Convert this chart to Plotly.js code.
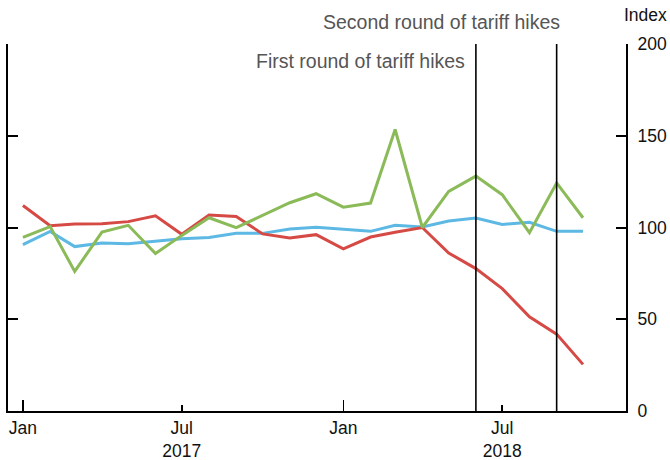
<!DOCTYPE html>
<html>
<head>
<meta charset="utf-8">
<script src="https://cdn.plot.ly/plotly-3.0.1.min.js"></script>
<style>html,body{margin:0;padding:0;background:#fff;}#chart{width:670px;height:460px;}</style>
</head>
<body>
<div id="chart"></div>
<script>
// Monthly dates, Jan 2017 - Oct 2018
var months = ["2017-01-01","2017-02-01","2017-03-01","2017-04-01","2017-05-01","2017-06-01",
              "2017-07-01","2017-08-01","2017-09-01","2017-10-01","2017-11-01","2017-12-01",
              "2018-01-01","2018-02-01","2018-03-01","2018-04-01","2018-05-01","2018-06-01",
              "2018-07-01","2018-08-01","2018-09-01","2018-10-01"];
var redSeries   = [112, 101, 101.9, 102, 103.2, 106.4, 96.3, 106.8, 106, 96.5, 94.3, 96.1,
                   88.4, 94.8, 97.4, 100, 86.1, 77.6, 66.7, 51.3, 41.9, 25.4];
var greenSeries = [94.6, 100.5, 76.1, 97.5, 101.2, 85.8, 95.7, 105.3, 99.9, 106.6, 113.5, 118.4,
                   111.1, 113.3, 153.4, 100, 119.7, 128, 117.9, 97.2, 124.3, 105.3];
var blueSeries  = [90.7, 97.9, 89.6, 91.5, 91.2, 92.5, 93.9, 94.6, 96.8, 96.8, 99.2, 100.1,
                   99.2, 97.9, 101.2, 100.3, 103.5, 105.2, 101.7, 102.8, 97.9, 97.9];
var tickDates  = ["2017-01-01","2017-07-01","2018-01-01","2018-07-01"];
var tickLabels = ["Jan","Jul<br>2017","Jan","Jul<br>2018"];
var yTicks = [0, 50, 100, 150, 200];
var eventDates  = ["2018-06-01", "2018-09-01"];
var eventLabels = ["First round of tariff hikes", "Second round of tariff hikes"];

var FONT = "Liberation Sans, Arial, Helvetica, sans-serif";

function line(y, color, ax) {
  return {x: months, y: y, type: "scatter", mode: "lines", yaxis: ax,
          line: {color: color, width: 3}, hoverinfo: "skip", showlegend: false};
}
var data = [line(blueSeries, "#5db8e3", "y"), line(redSeries, "#d64a45", "y2"),
            line(greenSeries, "#8bba58", "y2")];

var shapes = eventDates.map(function(d){
  return {type: "line", xref: "x", yref: "paper", x0: d, x1: d, y0: 0, y1: 1,
          line: {color: "#000", width: 1.6}};
});
var annYs = [0.953, 1.060];
var annShifts = [-9, 5];
var annotations = eventDates.map(function(d, i){
  return {xref: "x", yref: "paper", x: d, y: annYs[i], xanchor: "right", yanchor: "middle",
          xshift: annShifts[i], text: eventLabels[i], showarrow: false,
          font: {family: FONT, size: 19.5, color: "#555"}};
});
annotations.push({xref: "paper", yref: "paper", x: 1.031, y: 1.079, xanchor: "center",
  yanchor: "middle", text: "Index", showarrow: false, font: {family: FONT, size: 17.5, color: "#111"}});

var layout = {
  width: 670, height: 460,
  margin: {l: 8, r: 44, t: 44, b: 49, pad: 0},
  paper_bgcolor: "#fff", plot_bgcolor: "#fff",
  font: {family: FONT, size: 17.5, color: "#111"},
  showlegend: false,
  xaxis: {type: "date", range: ["2016-12-15", "2018-11-19"], showgrid: false, zeroline: false,
          showline: true, linecolor: "#000", linewidth: 2,
          tickmode: "array", tickvals: tickDates, ticktext: tickLabels,
          ticks: "inside", ticklen: 6, tickwidth: 1.6, tickcolor: "#000",
          minor: {tickmode: "array", tickvals: ["2017-01-01","2018-01-01"], ticks: "inside",
                  ticklen: 11, tickwidth: 1.6, tickcolor: "#000", showgrid: false},
          tickfont: {family: FONT, size: 17.5, color: "#111"}},
  yaxis: {range: [0, 200], tickmode: "array", tickvals: yTicks, showticklabels: false,
          showgrid: false, zeroline: false, showline: true, linecolor: "#000", linewidth: 2,
          ticks: "inside", ticklen: 10, tickwidth: 2, tickcolor: "#000", fixedrange: true},
  yaxis2: {range: [0, 200], overlaying: "y", side: "right", tickmode: "array", tickvals: yTicks,
           showgrid: false, zeroline: false, showline: true, linecolor: "#000", linewidth: 2,
           ticks: "inside", ticklen: 10, tickwidth: 2, tickcolor: "#000",
           ticklabelstandoff: 6,
           tickfont: {family: FONT, size: 17.5, color: "#111"}},
  shapes: shapes,
  annotations: annotations
};
Plotly.newPlot("chart", data, layout, {staticPlot: true, displayModeBar: false});
</script>
</body>
</html>
